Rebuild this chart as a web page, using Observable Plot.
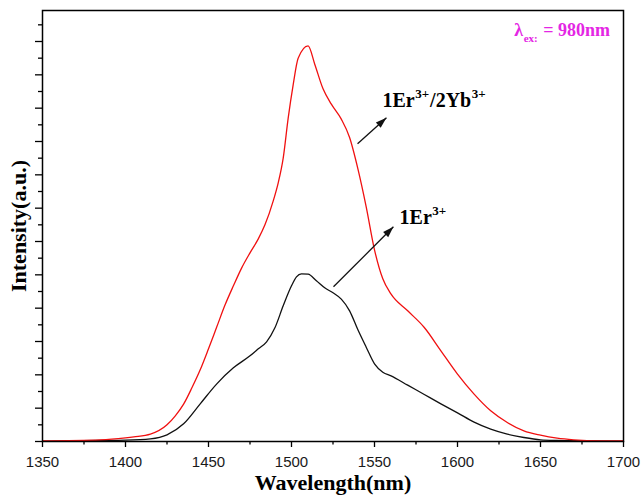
<!DOCTYPE html>
<html>
<head>
<meta charset="utf-8">
<script src="https://cdn.jsdelivr.net/npm/d3@7"></script>
<script src="https://cdn.jsdelivr.net/npm/@observablehq/plot@0.6"></script>
<style>
  html, body { margin: 0; padding: 0; background: #fff; }
</style>
</head>
<body>
<div id="chart"></div>
<script>
// Upconversion emission spectra under 980 nm excitation (arbitrary units)
const wavelengthErYb = [1350, 1385, 1400, 1405, 1415, 1425, 1430, 1435, 1440, 1445, 1450, 1455, 1460, 1465, 1470, 1475, 1480, 1484, 1489, 1492, 1495, 1498, 1501, 1504, 1510, 1514, 1519, 1524, 1530, 1535, 1540, 1545, 1550, 1555, 1560, 1570, 1580, 1590, 1600, 1610, 1620, 1630, 1640, 1650, 1660, 1670, 1686, 1700];
const intensityErYb  = [0.02, 0.05, 0.11, 0.14, 0.22, 0.50, 0.77, 1.12, 1.61, 2.15, 2.78, 3.44, 4.10, 4.67, 5.21, 5.66, 6.08, 6.50, 7.22, 7.76, 8.50, 9.70, 10.70, 11.50, 11.87, 11.32, 10.58, 10.12, 9.67, 9.12, 8.18, 7.04, 5.75, 4.88, 4.42, 3.92, 3.42, 2.72, 2.02, 1.42, 0.92, 0.57, 0.32, 0.19, 0.10, 0.05, 0.02, 0.02];

const wavelengthEr = [1350, 1385, 1400, 1415, 1425, 1435, 1445, 1455, 1465, 1475, 1480, 1485, 1490, 1495, 1500, 1503, 1506, 1510, 1515, 1520, 1525, 1530, 1535, 1540, 1545, 1550, 1555, 1560, 1570, 1580, 1590, 1600, 1610, 1620, 1630, 1640, 1650, 1660, 1675, 1700];
const intensityEr  = [0.01, 0.03, 0.04, 0.08, 0.20, 0.53, 1.13, 1.73, 2.21, 2.57, 2.78, 2.99, 3.41, 4.07, 4.67, 4.94, 5.03, 5.02, 4.82, 4.61, 4.46, 4.27, 3.92, 3.35, 2.83, 2.33, 2.08, 1.97, 1.69, 1.41, 1.13, 0.86, 0.58, 0.37, 0.22, 0.12, 0.05, 0.03, 0.02, 0.01];

// Axis ticks
const xTicks = [1350, 1400, 1450, 1500, 1550, 1600, 1650, 1700];
const xMinorTicks = [1375, 1425, 1475, 1525, 1575, 1625, 1675];
const yTicks = [0, 1, 2, 3, 4, 5, 6, 7, 8, 9, 10, 11, 12];
const yMinorTicks = [0.5, 1.5, 2.5, 3.5, 4.5, 5.5, 6.5, 7.5, 8.5, 9.5, 10.5, 11.5, 12.5];
const yMax = 12.93;

// Annotation arrows (tail -> head) and their labels
const arrowTailX = [1539.8, 1525.3];
const arrowTailY = [8.93, 4.64];
const arrowHeadX = [1557.2, 1561.4];
const arrowHeadY = [9.71, 6.44];
const labelErYbParts = ["1Er", "3+", "/2Yb", "3+"];
const labelErParts = ["1Er", "3+"];
const labelErYbAt = [1554.8, 10.04];
const labelErAt = [1565.1, 6.53];
const excitationParts = ["λ", "ex:", " = 980nm"];

const W = 642, H = 497;
const M = {top: 10, right: 19, bottom: 56, left: 42};
const serif = "'Liberation Serif', 'Times New Roman', serif";
const sans = "'Liberation Sans', Arial, sans-serif";

const erYb = wavelengthErYb.map((w, i) => ({w, v: intensityErYb[i]}));
const er = wavelengthEr.map((w, i) => ({w, v: intensityEr[i]}));
const arrows = arrowTailX.map((x, i) => ({x1: x, y1: arrowTailY[i], x2: arrowHeadX[i], y2: arrowHeadY[i]}));

// pixels per data unit, used to orient the arrowheads on screen
const kx = (W - M.left - M.right) / (1700 - 1350);
const ky = (H - M.top - M.bottom) / yMax;
arrows.forEach(a => {
  a.angle = Math.atan2((a.x2 - a.x1) * kx, (a.y2 - a.y1) * ky) * 180 / Math.PI;
});

// narrow filled arrowhead with its tip at the origin, pointing up
const arrowHead = {
  draw(context) {
    context.moveTo(0, 0);
    context.lineTo(-3.6, 11);
    context.lineTo(3.6, 11);
    context.closePath();
  }
};

// text width helper for placing super/subscripts
const ctx = document.createElement("canvas").getContext("2d");
function textWidth(t, size) {
  ctx.font = `bold ${size}px ${serif}`;
  return ctx.measureText(t).width;
}
function richWidth(parts, size, small) {
  return parts.reduce((s, t, i) => s + textWidth(t, i % 2 ? small : size) + (i % 2 ? 1 : 0.5), 0);
}

// text marks for a label with alternating normal / shifted (super- or subscript) parts
function richText(parts, at, {size, small, shift, fill = "black", frameAnchor, dx0 = 0, dy0 = 0}) {
  const marks = [];
  let dx = dx0;
  parts.forEach((t, i) => {
    const script = i % 2 === 1;
    const fs = script ? small : size;
    const opts = {
      text: d => d,
      textAnchor: "start",
      lineAnchor: "bottom",
      fontFamily: serif,
      fontWeight: "bold",
      fontSize: fs,
      fill,
      dx,
      dy: dy0 + (script ? shift : 0)
    };
    if (frameAnchor) opts.frameAnchor = frameAnchor;
    else { opts.x = () => at[0]; opts.y = () => at[1]; }
    marks.push(Plot.text([t], opts));
    dx += textWidth(t, fs) + (script ? 1 : 0.5);
  });
  return marks;
}

const labelErYb = richText(labelErYbParts, labelErYbAt, {size: 20, small: 13, shift: -9});
const labelEr = richText(labelErParts, labelErAt, {size: 20, small: 13, shift: -9});

// excitation note, right-aligned inside the top-right corner
const exW = richWidth(excitationParts, 18, 11);
const exLabel = richText(excitationParts, null, {
  size: 18, small: 11, shift: 6, fill: "#e426e4",
  frameAnchor: "top-right", dx0: -13 - exW, dy0: 25
});

const chart = Plot.plot({
  width: W,
  height: H,
  marginTop: M.top,
  marginRight: M.right,
  marginBottom: M.bottom,
  marginLeft: M.left,
  style: {background: "white", color: "black", fontFamily: sans, fontSize: "15px"},
  x: {domain: [1350, 1700]},
  y: {domain: [0, yMax]},
  marks: [
    Plot.axisX(xTicks, {tickSize: 6, tickPadding: 9, tickFormat: d => String(d), label: null, fontSize: 15, fill: "#1a1a1a", strokeWidth: 1.3}),
    Plot.axisX(xMinorTicks, {tickSize: 3.5, tickFormat: () => "", label: null, strokeWidth: 1.3}),
    Plot.axisY(yTicks, {tickSize: 7, tickFormat: () => "", label: null, strokeWidth: 1.3}),
    Plot.axisY(yMinorTicks, {tickSize: 4, tickFormat: () => "", label: null, strokeWidth: 1.3}),
    Plot.line(er, {x: "w", y: "v", stroke: "#111", strokeWidth: 1.3, curve: "monotone-x"}),
    Plot.line(erYb, {x: "w", y: "v", stroke: "#f01010", strokeWidth: 1.3, curve: "monotone-x"}),
    Plot.link(arrows, {x1: "x1", y1: "y1", x2: "x2", y2: "y2", stroke: "#111", strokeWidth: 1.3}),
    Plot.dot(arrows, {x: "x2", y: "y2", rotate: "angle", symbol: arrowHead, fill: "#111", stroke: "none", r: 4}),
    ...labelErYb,
    ...labelEr,
    ...exLabel,
    Plot.text(["Wavelength(nm)"], {frameAnchor: "bottom", dy: 41, text: d => d, lineAnchor: "middle", fontFamily: serif, fontWeight: "bold", fontSize: 22}),
    Plot.text(["Intensity(a.u.)"], {frameAnchor: "left", dx: -24, rotate: -90, text: d => d, lineAnchor: "middle", textAnchor: "middle", fontFamily: serif, fontWeight: "bold", fontSize: 22}),
    Plot.frame({stroke: "black", strokeWidth: 1.5})
  ]
});
document.getElementById("chart").appendChild(chart);
</script>
</body>
</html>
